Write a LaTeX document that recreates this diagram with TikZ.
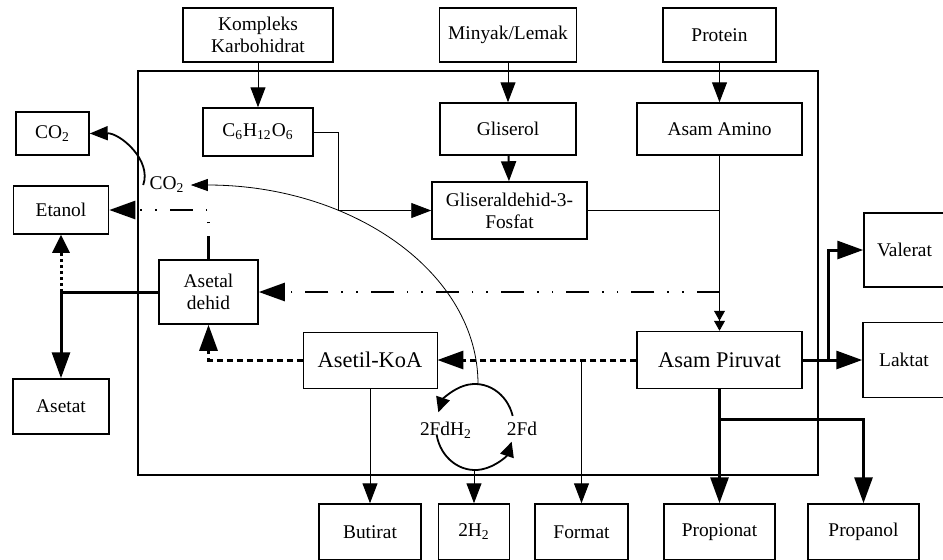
\documentclass[tikz,border=0pt]{standalone}
\usepackage{fontspec}
\setmainfont{Liberation Serif}
\usetikzlibrary{arrows.meta}

\tikzset{
  box/.style={draw,line width=0.75pt,align=center,inner sep=1pt,
    font=\fontsize{9.7}{11}\selectfont},
  big/.style={font=\fontsize{11.2}{13}\selectfont},
  hair/.style={line width=0.4pt},
  thin/.style={line width=0.5pt},
  heavy/.style={line width=1.5pt},
  frame/.style={line width=1.4pt},
  dashline/.style={line width=1.5pt,dash pattern=on 3pt off 2pt},
  dotline/.style={line width=1.5pt,dash pattern=on 1.5pt off 1.5pt},
  dashdot/.style={line width=1.3pt,
    dash pattern=on 11.5pt off 6.5pt on 0.8pt off 6.5pt on 0.8pt off 6.5pt},
  bigtip/.style={-{Triangle[length=13pt,width=9pt]}},
  smalltip/.style={-{Triangle[length=7.5pt,width=7pt]}}
}

\begin{document}
\begin{tikzpicture}[x=0.5pt,y=-0.5pt,>={Triangle[length=10pt,width=7.5pt]}]
  \useasboundingbox (0,0) rectangle (943,559);
  \draw[frame] (138,71) rectangle (818,475);

  % inputs
  \node[box,minimum width=75pt,minimum height=27pt] (kompleks) at (258,35) {Kompleks\\Karbohidrat};
  \node[box,minimum width=68.5pt,minimum height=27pt] (minyak) at (508,35) {Minyak/Lemak};
  \node[box,minimum width=56.5pt,minimum height=27pt] (protein) at (719.5,35) {Protein};

  % inside the frame
  \node[box,minimum width=55pt,minimum height=24pt] (glukosa) at (258,132) {C\textsubscript{6}H\textsubscript{12}O\textsubscript{6}};
  \node[box,minimum width=68pt,minimum height=26pt] (gliserol) at (508,129) {Gliserol};
  \node[box,minimum width=82.5pt,minimum height=26pt] (amino) at (719.5,129) {Asam Amino};
  \node[box,minimum width=77.5pt,minimum height=28.5pt] (glisald) at (509.5,210.5) {Gliseraldehid-3-\\Fosfat};
  \node[box,minimum width=49.5pt,minimum height=32pt] (asetal) at (208.5,292) {Asetal\\dehid};
  \node[box,big,line width=0.4pt,minimum width=67pt,minimum height=28pt] (asetil) at (370,360) {Asetil-KoA};
  \node[box,big,minimum width=82.5pt,minimum height=28.5pt] (piruvat) at (719.5,360) {Asam Piruvat};
  \node[font=\fontsize{9.7}{11}\selectfont,inner sep=3pt] (co2lbl) at (167,185) {CO\textsubscript{2}};
  \node[font=\fontsize{9.7}{11}\selectfont,inner sep=1pt] (fdh) at (446,430) {2FdH\textsubscript{2}};
  \node[font=\fontsize{9.7}{11}\selectfont,inner sep=1pt] (fd) at (522,429) {2Fd};
  \coordinate (cyc) at (475,427);
  \coordinate (cyctop) at (478,384);
  \coordinate (cycbot) at (474,470);
  \coordinate (split) at (719.5,292);

  % products
  \node[box,minimum width=36.5pt,minimum height=21.5pt] (co2box) at (52.5,133.5) {CO\textsubscript{2}};
  \node[box,minimum width=47.5pt,minimum height=24pt] (etanol) at (61,210) {Etanol};
  \node[box,minimum width=48pt,minimum height=27.5pt] (asetat) at (61,406.5) {Asetat};
  \node[box,minimum width=40.5pt,minimum height=37pt] (valerat) at (904.5,250) {Valerat};
  \node[box,minimum width=41pt,minimum height=37.5pt] (laktat) at (904,360) {Laktat};
  \node[box,minimum width=51pt,minimum height=28pt] (butirat) at (370,532) {Butirat};
  \node[box,minimum width=35.5pt,minimum height=28pt] (h2) at (474,532) {2H\textsubscript{2}};
  \node[box,minimum width=46.5pt,minimum height=28pt] (format) at (581.5,532) {Format};
  \node[box,minimum width=55.5pt,minimum height=28pt] (propionat) at (719.5,532) {Propionat};
  \node[box,minimum width=55.5pt,minimum height=28pt] (propanol) at (863.5,532) {Propanol};

  \draw[thin,->] (kompleks) -- (glukosa);
  \draw[thin,->] (minyak) -- (gliserol);
  \draw[thin,->] (protein) -- (amino);
  \draw[line width=1pt,->] (gliserol) -- (glisald);
  \draw[hair,->] (glukosa.east) -- ++(25,0) |- (glisald.west);
  \draw[hair] (glisald.east) -- (glisald.east -| amino.south);
  \draw[hair,-{Triangle[length=5pt,width=5.5pt]Triangle[length=5pt,width=5.5pt]}] (amino) -- (piruvat);

  \draw[dashdot,bigtip] (split) -- (asetal.east);
  \draw[dashline,bigtip] (piruvat.west) -- (asetil.east);
  \draw[thin,->] (piruvat.west -| format.north) -- (format.north);
  \draw[dashline,bigtip] (asetil.west) -| (asetal.south);
  \draw[thin,->] (asetil.south) -- (asetil.south |- butirat.north);
  \draw[dashdot,bigtip] (asetal.north) |- (etanol.east);
  \draw[heavy,bigtip] (asetal.west) -| (asetat.north);
  \draw[dotline,-{Triangle[length=9pt,width=8.5pt]}] (asetal.west -| etanol.south) -- (etanol.south);

  \draw[heavy,bigtip] (piruvat.east) -- (laktat.west);
  \draw[heavy,bigtip] (piruvat.east) ++(26,0) |- (valerat.west);
  \draw[heavy,bigtip] (piruvat.south) -- (piruvat.south |- propionat.north);
  \draw[heavy,bigtip] (piruvat.south) ++(0,30) -| (propanol.north);

  % ferredoxin cycle
  \draw[line width=0.9pt,smalltip] ([shift={(15:19.5pt and 21.5pt)}]cyc)
    arc[start angle=15,end angle=160,x radius=19.5pt,y radius=21.5pt];
  \draw[line width=0.9pt,smalltip] ([shift={(190:19.5pt and 21.5pt)}]cyc)
    arc[start angle=190,end angle=340,x radius=19.5pt,y radius=21.5pt];
  \draw[thin,->] (cycbot) -- (cycbot |- h2.north);
  \draw[hair,-{Triangle[length=8.5pt,width=6pt]}] (cyctop) .. controls (478,273) and (353,185) .. (co2lbl.east);
  \draw[line width=0.9pt,-{Triangle[length=9pt,width=7pt]}] (co2lbl.west) .. controls (152,160) and (120,133) .. (co2box.east);
\end{tikzpicture}
\end{document}
